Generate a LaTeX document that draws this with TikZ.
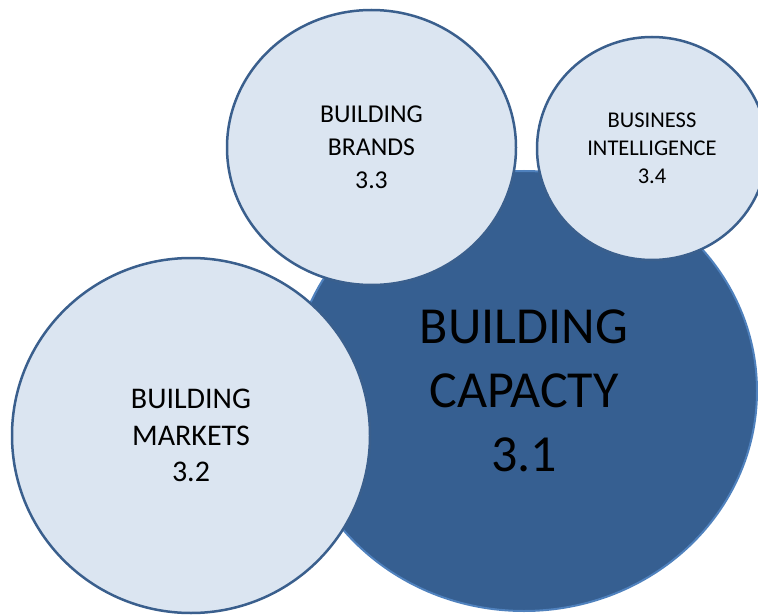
\documentclass[tikz,border=0pt]{standalone}
\usepackage{fontspec}
\setmainfont{Carlito}
\usetikzlibrary{shapes.geometric}
\definecolor{capfill}{HTML}{365F91}
\definecolor{capedge}{HTML}{4F81BD}
\definecolor{subfill}{HTML}{DBE5F1}
\definecolor{subedge}{HTML}{3A5F8D}
\tikzset{
  core/.style={ellipse, fill=capfill, draw=capedge, line width=2pt, inner sep=0pt, align=center},
  bubble/.style={ellipse, fill=subfill, draw=subedge, line width=2.5pt, inner sep=0pt, align=center}
}

\begin{document}
\begin{tikzpicture}[x=1pt, y=-1pt]
	%%%%% START %%%%%
	
	\useasboundingbox (0, 0) rectangle (758, 615);
	\clip (0, 0) rectangle (758, 615);
	
	% big one in the middle
	\node[core, minimum width=466pt, minimum height=440pt, font=\fontsize{52}{64}\selectfont] (capacity) at (524, 391) {BUILDING\\CAPACTY\\3.1};
	
	% the three around it
	\node[bubble, minimum width=358pt, minimum height=355pt, font=\fontsize{30}{36.5}\selectfont] (markets) at (191, 435.5) {BUILDING\\MARKETS\\3.2};
	\node[bubble, minimum width=289pt, minimum height=275pt, font=\fontsize{25.7}{33}\selectfont] (brands) at (371.5, 147.5) {BUILDING\\BRANDS\\3.3};
	\node[bubble, minimum width=230pt, minimum height=223pt, font=\fontsize{22.5}{28}\selectfont] (intel) at (652, 148.5) {BUSINESS\\INTELLIGENCE\\3.4};
	
	%%%%% END %%%%%
\end{tikzpicture}
\end{document}
